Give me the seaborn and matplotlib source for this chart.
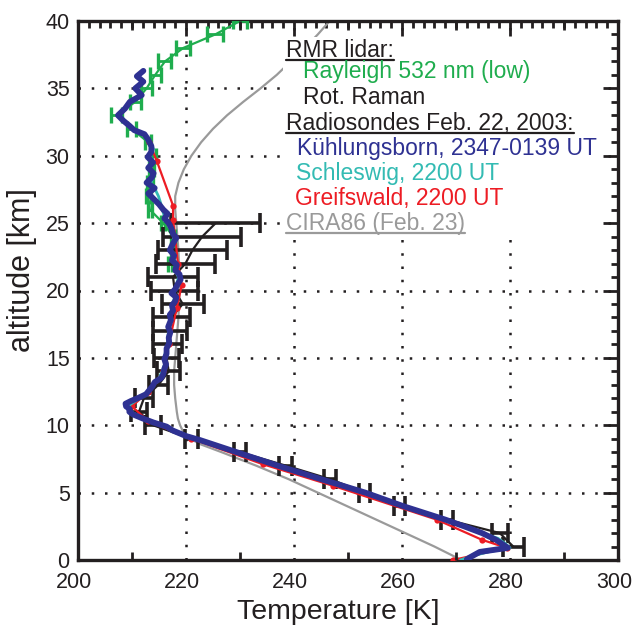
import matplotlib
matplotlib.use("Agg")
import matplotlib.pyplot as plt
import matplotlib.transforms as mtransforms
from matplotlib.lines import Line2D
from matplotlib.patches import Rectangle
from matplotlib.ticker import MultipleLocator
import seaborn as sns

# ---------------- data ----------------
# CIRA86 model (Feb. 23)
cira_z = [0, 1, 2, 3, 4, 5, 6, 7, 8, 8.6, 9, 9.5, 10, 10.5, 11, 12, 13, 14, 15, 16, 17,
          18, 19, 20, 21, 22, 23, 24, 25, 26, 27, 28, 29, 30, 31, 32, 33, 34, 35, 36,
          37, 38, 39, 40]
cira_T = [271.0, 266.0, 260.6, 255.2, 249.8, 244.4, 239.0, 233.0, 226.6, 222.6, 220.8,
          219.5, 218.9, 218.5, 218.3, 218.0, 217.8, 217.8, 218.0, 218.2, 218.4, 218.6,
          218.7, 218.8, 218.8, 218.7, 218.6, 218.4, 218.2, 218.0, 218.0, 218.6, 219.6,
          221.0, 222.8, 225.0, 227.6, 230.6, 233.8, 236.8, 239.4, 242.0, 244.4, 246.6]

# RMR lidar, Rayleigh 532 nm (low)
ray_z = [40, 39, 38, 37, 36, 35, 34, 33, 32, 31, 30, 29, 28, 27, 26, 25, 24, 23, 22]
ray_T = [230.0, 225.4, 219.5, 216.1, 214.3, 212.7, 210.6, 207.2, 209.9, 213.0, 213.9,
         213.6, 213.3, 213.0, 213.3, 215.8, 217.6, 217.6, 217.0]
ray_err = [1.3, 1.5, 1.3, 1.2, 1.0, 1.0, 1.0, 1.0, 0.8, 0.6, 0.5, 0.5, 0.5, 0.5, 0.4,
           0.4, 0.4, 0.4, 0.4]

# RMR lidar, rotational Raman
rr_z = [25, 24, 23, 22, 21, 20, 19, 18, 17, 16, 15, 14, 13, 12, 11, 10, 9, 8, 7, 6, 5,
        4, 3, 2, 1]
rr_T = [225.5, 223.0, 221.2, 219.9, 217.6, 217.9, 219.4, 217.3, 217.0, 216.5, 216.4,
        216.8, 214.9, 212.2, 211.3, 213.9, 221.0, 230.0, 238.5, 246.7, 253.1, 259.6,
        268.3, 278.1, 280.6]
rr_err = [8.2, 7.2, 6.3, 5.5, 4.7, 4.3, 3.9, 3.4, 3.1, 2.7, 2.3, 2.1, 1.8, 1.7, 1.5,
          1.5, 1.2, 1.2, 1.2, 1.1, 1.0, 1.0, 1.1, 1.5, 1.9]

# Radiosonde Kuehlungsborn 2347-0139 UT
kb_z = [36.3, 35.9, 35.5, 35.0, 34.5, 34.0, 33.5, 33.0, 32.6, 32.2, 31.9, 31.6, 31.2,
        30.7, 30.3, 29.9, 29.5, 29.1, 28.7, 28.4, 28.0, 27.6, 27.2, 26.8, 26.4, 26.0,
        25.7, 25.35, 25.0, 24.6, 24.2, 23.9, 23.5, 23.0, 22.6, 22.25, 21.9, 21.5, 21.2,
        20.8, 20.5, 20.1, 19.8, 19.5, 19.2, 18.9, 18.5, 18.2, 17.8, 17.3, 16.9, 16.5,
        16.1, 15.7, 15.3, 14.9, 14.5, 14.2, 13.8, 13.5, 13.2, 12.9, 12.6, 12.3, 12.0,
        11.8, 11.6, 11.4, 11.2, 11.0, 10.8, 10.5, 10.2, 9.9, 9.6, 9.2, 8.9, 8.0, 7.0,
        6.0, 5.0, 4.0, 3.0, 2.5, 2.0, 1.5, 1.2, 0.9, 0.75, 0.6, 0.4, 0.2, 0.05]
kb_T = [212.1, 210.9, 212.1, 210.6, 211.8, 209.6, 208.7, 207.4, 208.4, 209.6, 210.4,
        212.3, 213.0, 213.6, 213.6, 212.9, 213.9, 213.0, 214.0, 213.7, 212.7, 214.2,
        213.0, 214.0, 215.0, 215.8, 216.6, 216.0, 216.8, 217.3, 217.6, 218.2, 217.6,
        217.0, 217.8, 217.4, 218.3, 218.0, 218.8, 219.0, 218.5, 218.0, 217.3, 218.2,
        218.0, 217.4, 217.6, 217.0, 217.2, 216.7, 217.1, 216.8, 216.9, 216.4, 216.4,
        216.0, 216.3, 216.0, 215.8, 215.4, 214.2, 213.8, 213.2, 212.6, 211.0, 209.8,
        208.8, 208.9, 209.6, 209.5, 210.2, 212.0, 214.0, 216.4, 217.6, 220.0, 222.6,
        229.4, 237.0, 245.0, 253.2, 260.2, 268.0, 271.5, 274.8, 277.4, 278.5, 279.6,
        277.0, 274.4, 273.5, 272.6, 272.0]

# Radiosonde Schleswig 2200 UT
sl_z = [31.0, 30.5, 30.0, 29.5, 29.0, 28.5, 28.0, 27.5, 27.0, 26.5, 26.0, 25.5, 25.0,
        24.5, 24.0, 23.5, 23.0, 22.5, 22.0, 21.5, 21.0, 20.5, 20.0, 19.5, 19.0, 18.5,
        18.0, 17.5, 17.0, 16.5, 16.0, 15.5, 15.0, 14.5, 14.0, 13.5, 13.0, 12.5, 12.0,
        11.5, 11.0, 10.5, 10.0, 9.5, 9.0, 8.0, 7.0, 6.0, 5.0, 4.0, 3.0, 2.0, 1.6, 1.2,
        0.9, 0.6, 0.3, 0.0]
sl_T = [213.3, 214.0, 213.4, 213.8, 213.2, 214.0, 213.5, 214.3, 214.9, 215.3, 215.6,
        216.0, 216.6, 217.2, 217.8, 217.5, 217.2, 217.8, 218.1, 218.0, 218.6, 218.3,
        217.8, 217.9, 217.5, 217.3, 217.0, 216.9, 216.8, 216.6, 216.7, 216.2, 216.0,
        216.0, 215.6, 215.0, 214.0, 212.8, 211.4, 209.5, 209.8, 212.3, 215.8, 218.6,
        222.0, 229.2, 236.6, 244.6, 252.9, 260.0, 267.8, 275.0, 277.8, 279.2, 280.0,
        276.0, 273.0, 270.8]

# Radiosonde Greifswald 2200 UT
gw_z = [0.0, 0.9, 1.5, 3.0, 5.5, 7.1, 9.0, 10.3, 11.4, 12.5, 14.0, 16.0, 18.7, 20.4,
        22.0, 24.0, 25.2, 26.3, 29.6, 31.0]
gw_T = [269.5, 279.4, 274.8, 266.4, 247.3, 234.3, 221.0, 213.0, 210.0, 213.0, 215.8,
        216.8, 218.3, 219.2, 218.5, 218.0, 217.6, 217.6, 214.6, 213.2]

x_ticks = [200, 220, 240, 260, 280, 300]
y_ticks = [0, 5, 10, 15, 20, 25, 30, 35, 40]

legend_lines = [
    ("RMR lidar:", "black", True),
    ("Rayleigh 532 nm (low)", "green", False),
    ("Rot. Raman", "black", False),
    ("Radiosondes Feb. 22, 2003:", "black", True),
    ("Kühlungsborn, 2347-0139 UT", "blue", False),
    ("Schleswig, 2200 UT", "cyan", False),
    ("Greifswald, 2200 UT", "red", False),
    ("CIRA86 (Feb. 23)", "gray", True),
]

# ---------------- style ----------------
BLACK = "#231f20"
COL = {"black": BLACK, "green": "#1fad4e", "blue": "#2e3192", "cyan": "#33bbb3",
       "red": "#ed1c24", "gray": "#9a9a9a"}

sns.set_theme(style="white")
plt.rcParams["font.family"] = ["Liberation Sans", "DejaVu Sans"]

W, H = 633, 632
fig = plt.figure(figsize=(W / 100, H / 100), dpi=100)
ax = fig.add_axes([78 / W, (H - 560) / H, 540 / W, 539 / H])

# CIRA86
sns.lineplot(x=cira_T, y=cira_z, sort=False, estimator=None, ax=ax,
             color=COL["gray"], lw=1.6, zorder=2)
# Rayleigh lidar
sns.lineplot(x=ray_T, y=ray_z, sort=False, estimator=None, ax=ax,
             color=COL["green"], lw=1.6, zorder=3)
ax.errorbar(ray_T, ray_z, xerr=ray_err, fmt="none", ecolor=COL["green"],
            elinewidth=2.0, capsize=5.5, capthick=2.4, zorder=3)
# Rot. Raman lidar
sns.lineplot(x=rr_T, y=rr_z, sort=False, estimator=None, ax=ax,
             color=BLACK, lw=1.6, zorder=3)
ax.errorbar(rr_T, rr_z, xerr=rr_err, fmt="none", ecolor=BLACK,
            elinewidth=2.6, capsize=7, capthick=2.6, zorder=3)
# radiosondes
sns.lineplot(x=gw_T, y=gw_z, sort=False, estimator=None, ax=ax,
             color=COL["red"], lw=1.6, marker="o", markersize=4.5,
             markeredgewidth=0, zorder=4)
sns.lineplot(x=sl_T, y=sl_z, sort=False, estimator=None, ax=ax,
             color=COL["cyan"], lw=2.0, zorder=5)
sns.lineplot(x=kb_T, y=kb_z, sort=False, estimator=None, ax=ax,
             color=COL["blue"], lw=4.2, zorder=6, solid_joinstyle="round")

ax.set_xlim(200, 300)
ax.set_ylim(0, 40)
ax.set_xticks(x_ticks)
ax.set_yticks(y_ticks)
ax.set_xticklabels([str(v) for v in x_ticks])
ax.set_yticklabels([str(v) for v in y_ticks])
ax.xaxis.set_minor_locator(MultipleLocator(2))
ax.yaxis.set_minor_locator(MultipleLocator(1))
ax.set_xlabel("")
ax.set_ylabel("")

ax.grid(which="major", color=BLACK, linestyle=(0, (1, 4.3)), linewidth=1.8)
ax.set_axisbelow(True)

ax.tick_params(which="both", direction="in", top=True, right=True,
               color=BLACK, width=2.0, labelsize=15.5, labelcolor=BLACK)
ax.tick_params(which="major", length=11)
ax.tick_params(which="minor", length=5)
ax.tick_params(axis="x", pad=9)
ax.tick_params(axis="y", pad=6)
for s in ax.spines.values():
    s.set_linewidth(2.4)
    s.set_color(BLACK)
    s.set_visible(True)

# shift x tick labels slightly left, as in the reference
shift = mtransforms.ScaledTranslation(-4 / 100, 0, fig.dpi_scale_trans)
for lab in ax.get_xticklabels():
    lab.set_transform(lab.get_transform() + shift)

# medium ticks every 10 K
tr = ax.get_xaxis_transform()
for xv in range(210, 300, 20):
    ax.plot([xv, xv], [0, 8.5 / 539], transform=tr, color=BLACK, lw=2.0,
            solid_capstyle="butt", clip_on=False, zorder=7)
    ax.plot([xv, xv], [1 - 8.5 / 539, 1], transform=tr, color=BLACK, lw=2.0,
            solid_capstyle="butt", clip_on=False, zorder=7)

# white legend box
ax.add_patch(Rectangle(((283 - 78) / 540, (560 - 237) / 539),
                       (601 - 283) / 540, (237 - 37) / 539,
                       transform=ax.transAxes, facecolor="white",
                       edgecolor="none", zorder=8))

# axis labels
fig.text(338 / W, 1 - 612 / H, "Temperature [K]", ha="center", va="center",
         fontsize=20.5, color=BLACK)
fig.text(22 / W, 1 - 270 / H, "altitude [km]", ha="center", va="center",
         rotation=90, fontsize=22, color=BLACK)

# legend text
leg_x = [286, 303, 303, 286, 297, 296, 295, 286]
leg_y = [56.7, 78.3, 104, 130, 155, 180, 205, 230]
texts = []
for (label, c, ul), xp, yp in zip(legend_lines, leg_x, leg_y):
    t = fig.text(xp / W, 1 - yp / H, label, ha="left", va="baseline",
                 fontsize=16.5, color=COL[c], zorder=10)
    texts.append((t, ul, yp, c))

fig.canvas.draw()
r = fig.canvas.get_renderer()
for t, ul, yp, c in texts:
    if ul:
        bb = t.get_window_extent(renderer=r)
        yl = 1 - (yp + 3.3) / H
        fig.add_artist(Line2D([bb.x0 / W, bb.x1 / W], [yl, yl],
                              transform=fig.transFigure, color=COL[c], lw=1.6,
                              zorder=10))

fig.savefig("out.png", dpi=100)
